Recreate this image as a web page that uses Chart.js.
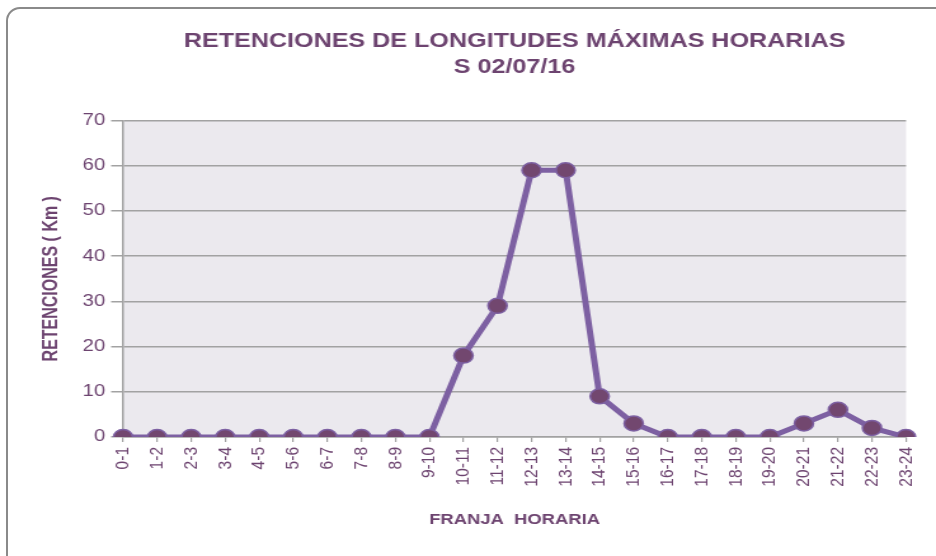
<!DOCTYPE html>
<html>
<head>
<meta charset="utf-8">
<script src="https://cdn.jsdelivr.net/npm/chart.js@4"></script>
<style>
  html, body { margin: 0; padding: 0; background: #fff; overflow: hidden; width: 936px; height: 556px; }
  .frame { position: absolute; left: 6px; top: 7px; width: 960px; height: 600px; border: 2.5px solid #8a8a8a; border-radius: 14px; }
  .wrap { position: absolute; left: 0; top: 0; width: 737px; height: 556px; transform: scaleX(1.27); transform-origin: 0 0; }
</style>
</head>
<body>
<div class="frame"></div>
<div class="wrap"><canvas id="lineChart" width="737" height="556"></canvas></div>
<script>
// Categories (franjas horarias) and values
const franjas = ['0-1', '1-2', '2-3', '3-4', '4-5', '5-6', '6-7', '7-8', '8-9', '9-10', '10-11', '11-12',
    '12-13', '13-14', '14-15', '15-16', '16-17', '17-18', '18-19', '19-20', '20-21', '21-22', '22-23', '23-24'];
const retenciones = [0, 0, 0, 0, 0, 0, 0, 0, 0, 0, 18, 29, 59, 59, 9, 3, 0, 0, 0, 0, 3, 6, 2, 0];
const yTicks = [0, 10, 20, 30, 40, 50, 60, 70];

const titulo = ['RETENCIONES DE LONGITUDES MÁXIMAS HORARIAS', 'S 02/07/16'];
const tituloX = 'FRANJA  HORARIA';
const tituloY = 'RETENCIONES ( Km )';

const textColor = '#6d4470';
const lineColor = '#7d60a2';
const pointColor = '#72476f';
const gridColor = '#a2a2a2';
const font = 'Liberation Sans, Arial, sans-serif';

// plot background
const plotBg = {
    id: 'plotBg',
    beforeDraw(chart) {
        const a = chart.chartArea;
        const ctx = chart.ctx;
        ctx.save();
        ctx.fillStyle = '#ebe9ee';
        ctx.fillRect(a.left, a.top, a.right - a.left, a.bottom - a.top);
        ctx.restore();
    }
};

const ctx = document.getElementById('lineChart').getContext('2d');

new Chart(ctx, {
    type: 'line',
    data: {
        labels: franjas,
        datasets: [{
            data: retenciones,
            borderColor: lineColor,
            borderWidth: 5,
            backgroundColor: pointColor,
            pointBackgroundColor: pointColor,
            pointBorderColor: lineColor,
            pointBorderWidth: 1.5,
            pointRadius: 7.5,
            tension: 0,
            fill: false
        }]
    },
    options: {
        responsive: false,
        animation: false,
        layout: { padding: { left: 0, right: 23.6, top: 0, bottom: 0 } },
        plugins: {
            legend: { display: false },
            tooltip: { enabled: false },
            title: {
                display: true,
                fullSize: false,
                text: titulo,
                color: textColor,
                font: { family: font, size: 19.8, weight: 'bold', lineHeight: 1.3 },
                padding: { top: 29, bottom: 40 }
            }
        },
        scales: {
            x: {
                offset: false,
                afterFit(scale) { scale.height = 119; },
                grid: { drawOnChartArea: false, drawTicks: true, tickLength: 5, color: gridColor, lineWidth: 1.2 },
                border: { color: gridColor, width: 1.5 },
                ticks: {
                    autoSkip: false, minRotation: 90, maxRotation: 90,
                    color: textColor, padding: 5,
                    font: { family: font, size: 15.5 }
                },
                title: {
                    display: true, text: tituloX, color: textColor,
                    font: { family: font, size: 14.5, weight: 'bold', lineHeight: 1.2 },
                    padding: { top: 0, bottom: 27 }
                }
            },
            y: {
                min: 0, max: 70,
                afterFit(scale) { scale.width = 96.9; },
                afterBuildTicks(scale) { scale.ticks = yTicks.map(v => ({ value: v })); },
                grid: { color: gridColor, lineWidth: 1.5, tickLength: 9.4, tickColor: gridColor },
                border: { color: gridColor, width: 1.5 },
                ticks: {
                    color: textColor, padding: 4.7,
                    font: { family: font, size: 16 }
                },
                title: {
                    display: true, text: tituloY, color: textColor,
                    font: { family: font, size: 16, weight: 'bold', lineHeight: 1.2 },
                    padding: { top: 31, bottom: 0 }
                }
            }
        }
    },
    plugins: [plotBg]
});
</script>
</body>
</html>
